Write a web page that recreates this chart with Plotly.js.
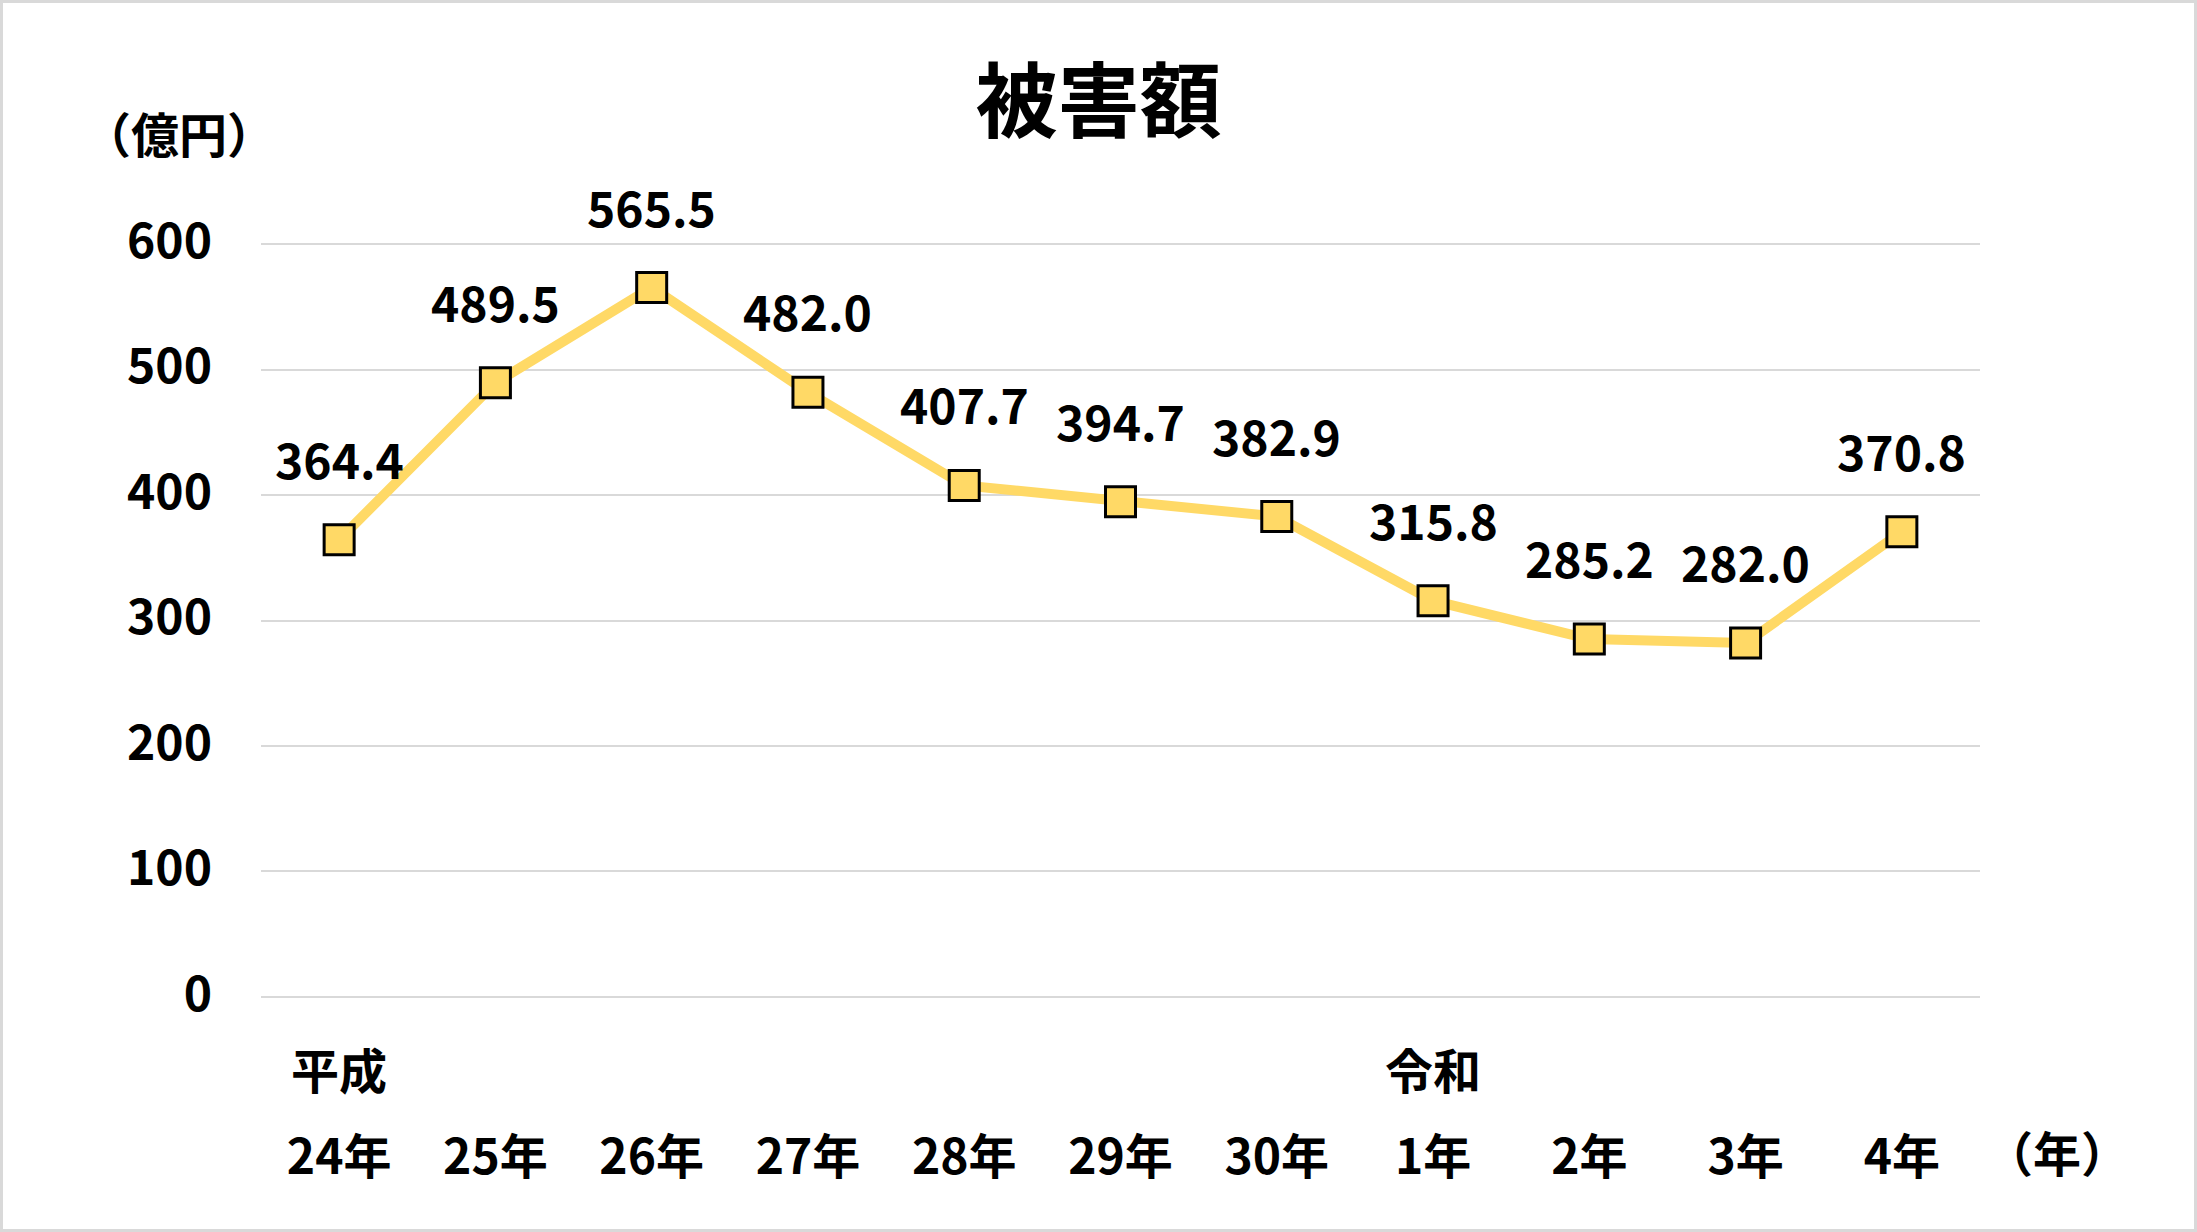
<!DOCTYPE html>
<html>
<head>
<meta charset="utf-8">
<script src="https://cdn.plot.ly/plotly-3.0.1.min.js"></script>
<style>
  html, body { margin: 0; padding: 0; background: #fff; }
  #wrap { position: relative; width: 2197px; height: 1232px; }
  #chart { width: 2197px; height: 1232px; }
  #frame { position: absolute; left: 0; top: 0; width: 2197px; height: 1232px;
           box-sizing: border-box; border: 3px solid #d9d9d9; pointer-events: none; }
</style>
</head>
<body>
<div id="wrap"><div id="chart"></div><div id="frame"></div></div>
<script>
// ---- data ----
const years = ["24年", "25年", "26年", "27年", "28年", "29年", "30年", "1年", "2年", "3年", "4年"];
const eras = ["平成", "", "", "", "", "", "", "令和", "", "", ""];
const damage = [364.4, 489.5, 565.5, 482.0, 407.7, 394.7, 382.9, 315.8, 285.2, 282.0, 370.8];
const yTicks = [0, 100, 200, 300, 400, 500, 600];
const chartTitle = "被害額";
const yUnit = "（億円）";
const xUnit = "（年）";

const FONT = '"Noto Sans CJK JP", "Noto Sans", sans-serif';
const FS = 48;
const idx = years.map((_, i) => i);

const trace = {
  type: 'scatter',
  mode: 'lines+markers',
  x: idx,
  y: damage,
  line: { color: '#FFD966', width: 10 },
  marker: { symbol: 'square', size: 30, color: '#FFD966', line: { color: '#000', width: 3 } },
  cliponaxis: false,
  hoverinfo: 'skip'
};

const annotations = [];
damage.forEach((v, i) => {
  annotations.push({
    x: i, y: v, xref: 'x', yref: 'y',
    text: v.toFixed(1), showarrow: false,
    yanchor: 'middle', xanchor: 'center', yshift: 82,
    font: { family: FONT, size: FS, color: '#000', weight: 'bold' }
  });
});
eras.forEach((e, i) => {
  if (!e) return;
  annotations.push({
    x: i, y: 0, xref: 'x', yref: 'y',
    text: e, showarrow: false,
    yanchor: 'middle', xanchor: 'center', yshift: -71,
    font: { family: FONT, size: FS, color: '#000', weight: 'bold' }
  });
});
const paperNotes = [
  { px: 2057, py: 1151, text: xUnit },
  { px: 179, py: 132, text: yUnit }
];

const M = { l: 261, r: 217, t: 243, b: 234 };
const PW = 2197 - M.l - M.r, PH = 1232 - M.t - M.b;
paperNotes.forEach(n => {
  annotations.push({
    x: (n.px - M.l) / PW, y: (1232 - n.py - M.b) / PH,
    xref: 'paper', yref: 'paper',
    text: n.text, showarrow: false, xanchor: 'center', yanchor: 'middle',
    font: { family: FONT, size: FS, color: '#000', weight: 'bold' }
  });
});

const layout = {
  width: 2197, height: 1232,
  margin: M,
  paper_bgcolor: '#fff', plot_bgcolor: '#fff',
  showlegend: false,
  title: {
    text: chartTitle,
    xref: 'container', yref: 'container',
    x: 0.5, y: 1 - 102 / 1232, xanchor: 'center', yanchor: 'middle',
    font: { family: FONT, size: 82, color: '#000', weight: 'bold' }
  },
  xaxis: {
    range: [-0.5, 10.5],
    tickmode: 'array', tickvals: idx, ticktext: years,
    showgrid: false, zeroline: false, showline: false, ticks: '',
    ticklabelstandoff: 127,
    tickfont: { family: FONT, size: FS, color: '#000', weight: 'bold' },
    fixedrange: true
  },
  yaxis: {
    range: [-1, 601],
    tickmode: 'array', tickvals: yTicks, ticktext: yTicks.map(String),
    showgrid: true, gridcolor: '#d9d9d9', gridwidth: 2,
    zeroline: false, showline: false, ticks: '',
    ticklabelstandoff: 48,
    ticklabelshift: -3,
    tickfont: { family: FONT, size: FS, color: '#000', weight: 'bold' },
    fixedrange: true
  },
  annotations: annotations
};

Plotly.newPlot('chart', [trace], layout, { staticPlot: true, displayModeBar: false });
</script>
</body>
</html>
